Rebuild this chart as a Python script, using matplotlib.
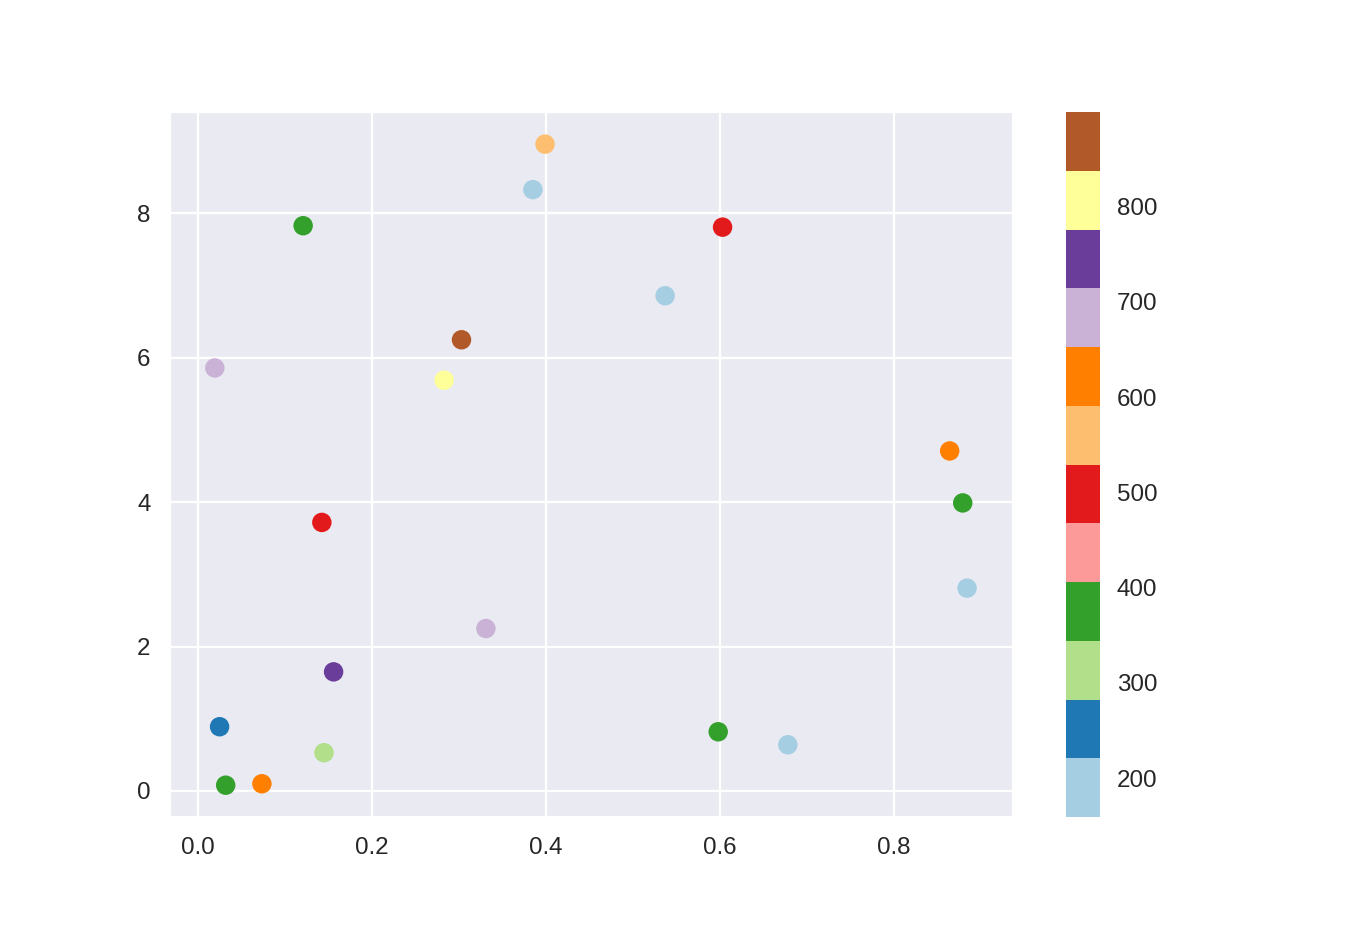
import numpy as np
import matplotlib
matplotlib.use("Agg")
import matplotlib.pyplot as plt
import seaborn as sns

sns.set_style("darkgrid")
plt.rcParams['font.family'] = ['Liberation Sans', 'DejaVu Sans']
plt.rcParams['xtick.labelsize'] = 8.7
plt.rcParams['ytick.labelsize'] = 8.7

# point positions and colour values
x = [0.121, 0.399, 0.385, 0.603, 0.537, 0.303, 0.283, 0.0195, 0.864, 0.879,
     0.1425, 0.884, 0.331, 0.156, 0.025, 0.145, 0.032, 0.0736, 0.598, 0.678]
y = [7.83, 8.96, 8.33, 7.81, 6.86, 6.25, 5.69, 5.86, 4.71, 3.99,
     3.72, 2.81, 2.25, 1.65, 0.89, 0.53, 0.08, 0.10, 0.82, 0.64]
c = [375, 560, 190, 498, 200, 899, 806, 683, 620, 380,
     495, 159, 690, 745, 250, 312, 370, 615, 385, 205]

fig = plt.figure(figsize=(6.8, 4.67), dpi=200)
ax = fig.add_axes([0.125, 0.125, 0.62, 0.755])
cax = fig.add_axes([0.784, 0.125, 0.025, 0.755])

sc = ax.scatter(x, y, c=c, cmap='Paired', s=36)
ax.set_xlim(-0.032, 0.937)
ax.set_xticks([0.0, 0.2, 0.4, 0.6, 0.8])
ax.set_yticks([0, 2, 4, 6, 8])

cb = fig.colorbar(sc, cax=cax)
cb.set_ticks([200, 300, 400, 500, 600, 700, 800])
cb.outline.set_visible(False)
cax.tick_params(length=0, pad=6)

fig.savefig("out.png", dpi=200)
